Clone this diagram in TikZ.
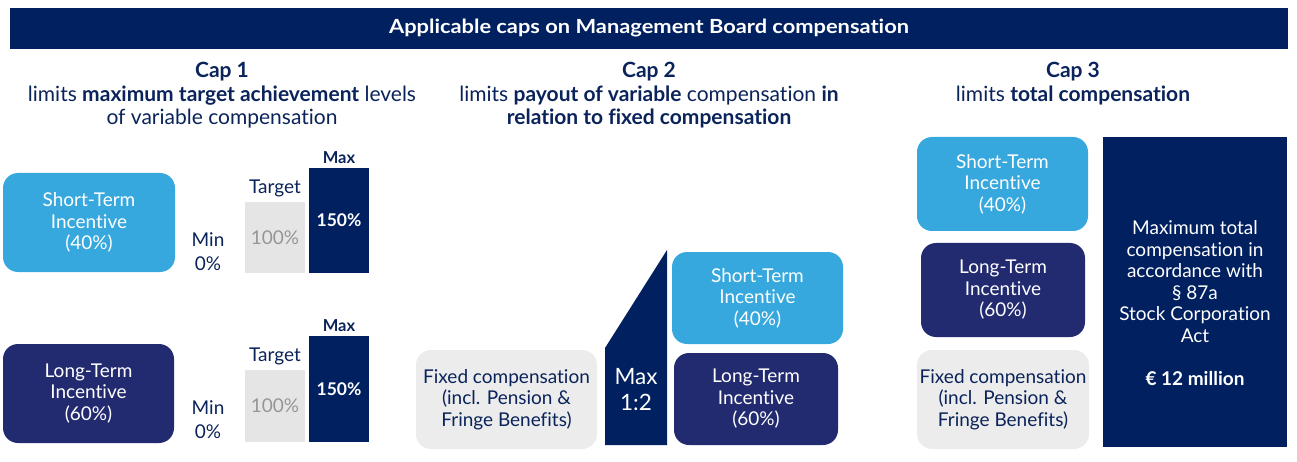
\documentclass[tikz,border=0pt]{standalone}
\usepackage{fontspec}
\setmainfont{Lato}[Ligatures=NoCommon]
\newfontfamily\titlefont{Lato}[FakeStretch=1.12, Ligatures=NoCommon]
\definecolor{navy}{RGB}{0,32,96}
\definecolor{sky}{RGB}{54,168,222}
\definecolor{indigo}{RGB}{34,42,112}
\definecolor{tgray}{RGB}{229,229,229}
\definecolor{fgray}{RGB}{236,236,236}
\definecolor{txt}{RGB}{10,35,90}
\definecolor{pct}{RGB}{150,150,150}
\tikzset{
  body/.style={font=\fontsize{19}{21.5}\selectfont, align=center, inner sep=0pt},
  rbox/.style={body, rounded corners=15pt, draw=none},
  sti/.style={rbox, fill=sky, text=white},
  lti/.style={rbox, fill=indigo, text=white},
  fixedbox/.style={rbox, fill=fgray, text=txt},
  bar/.style={inner sep=0pt, draw=none},
  lbl/.style={body, text=txt},
  heading/.style={body, text=txt, font=\fontsize{21}{23.5}\selectfont},
}
\begin{document}
\begin{tikzpicture}[x=1pt,y=1pt]
\useasboundingbox (0,0) rectangle (1297,-462);
% title bar
\node[bar, fill=navy, minimum width=1278, minimum height=41, text=white,
  font=\titlefont\fontsize{19.5}{22}\selectfont\bfseries] (title) at (649,-28.5)
  {Applicable caps on Management Board compensation};
% headings
\node[heading, anchor=north] (h1) at (222,-62)
  {\textbf{Cap 1}\\limits \textbf{maximum target achievement} levels\\of variable compensation};
\node[heading, anchor=north] (h2) at (649,-62)
  {\textbf{Cap 2}\\limits \textbf{payout of variable} compensation \textbf{in}\\\textbf{relation to fixed compensation}};
\node[heading, anchor=north] (h3) at (1073,-62)
  {\textbf{Cap 3}\\limits \textbf{total compensation}};
% Cap 1
\node[sti, minimum width=172, minimum height=99] (sti1) at (89,-222.5) {Short-Term\\Incentive\\(40\%)};
\node[lti, minimum width=171, minimum height=99] (lti1) at (88.5,-393.5) {Long-Term\\Incentive\\(60\%)};
\node[lbl] (min1) at (208,-251.5) {Min\\[3pt]0\%};
\node[lbl] (min2) at (208,-419.5) {Min\\[3pt]0\%};
\node[bar, fill=tgray, minimum width=60, minimum height=71, body, text=pct] (tg1) at (275,-237.5) {100\%};
\node[bar, fill=navy, minimum width=60, minimum height=105, body, text=white, font=\fontsize{17.5}{21.5}\selectfont\bfseries] (mx1) at (339,-220.5) {150\%};
\node[lbl, anchor=south] (tl1) at (tg1.north) [yshift=5pt] {Target};
\node[lbl, anchor=south, font=\fontsize{16.5}{20}\selectfont\bfseries] (ml1) at (mx1.north) [yshift=4pt] {Max};
\node[bar, fill=tgray, minimum width=60, minimum height=72, body, text=pct] (tg2) at (275,-406) {100\%};
\node[bar, fill=navy, minimum width=60, minimum height=106, body, text=white, font=\fontsize{17.5}{21.5}\selectfont\bfseries] (mx2) at (339,-389) {150\%};
\node[lbl, anchor=south] (tl2) at (tg2.north) [yshift=5pt] {Target};
\node[lbl, anchor=south, font=\fontsize{16.5}{20}\selectfont\bfseries] (ml2) at (mx2.north) [yshift=4pt] {Max};
% Cap 2
\node[fixedbox, minimum width=181, minimum height=99] (fix2) at (506.5,-399.5) {Fixed compensation\\(incl. Pension \&\\Fringe Benefits)};
\fill[navy] (605,-445) -- (605,-348) -- (667,-250) -- (667,-445) -- cycle;
\node[body, text=white, font=\fontsize{22.5}{26}\selectfont] (ratio) at (636,-390) {Max\\1:2};
\node[sti, minimum width=171, minimum height=92] (sti2) at (757.5,-298) {Short-Term\\Incentive\\(40\%)};
\node[lti, minimum width=164, minimum height=92] (lti2) at (756,-399) {Long-Term\\Incentive\\(60\%)};
% Cap 3
\node[sti, minimum width=171, minimum height=94] (sti3) at (1002.5,-184) {Short-Term\\Incentive\\(40\%)};
\node[lti, minimum width=164, minimum height=94] (lti3) at (1003,-290) {Long-Term\\Incentive\\(60\%)};
\node[fixedbox, minimum width=172, minimum height=99] (fix3) at (1003,-399.5) {Fixed compensation\\(incl. Pension \&\\Fringe Benefits)};
\node[bar, fill=navy, minimum width=184, minimum height=310] (big) at (1195,-292) {};
\node[body, text=white] (bigtxt) at (1195,-303) {Maximum total\\compensation in\\accordance with\\§ 87a\\Stock Corporation\\Act\\[21.5pt]\textbf{€ 12 million}};
\end{tikzpicture}
\end{document}
